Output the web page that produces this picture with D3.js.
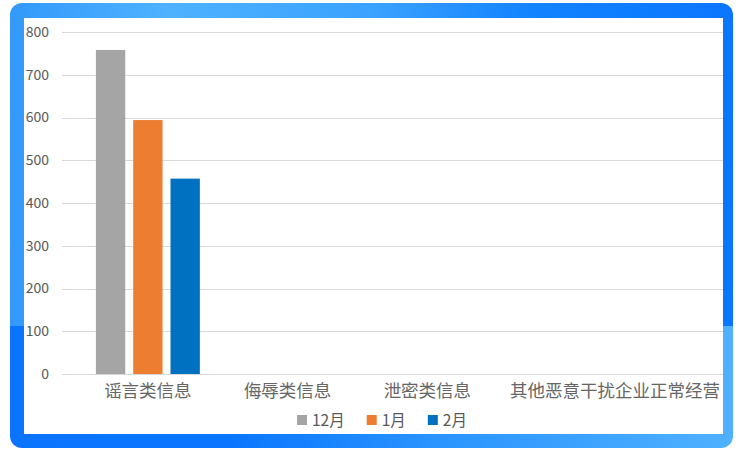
<!DOCTYPE html>
<html><head><meta charset="utf-8">
<script src="https://cdn.jsdelivr.net/npm/d3@7/dist/d3.min.js"></script>
<style>
html,body{margin:0;padding:0;background:#fff;}
svg{display:block;font-family:"Noto Sans CJK SC","Noto Sans",sans-serif;}
</style></head>
<body>
<svg id="chart" width="743" height="460"></svg>
<script>
const categories = ["谣言类信息", "侮辱类信息", "泄密类信息", "其他恶意干扰企业正常经营"];
const seriesNames = ["12月", "1月", "2月"];
const values12 = [758, 0, 0, 0];
const values1 = [594, 0, 0, 0];
const values2 = [457, 0, 0, 0];
const yTicks = [0, 100, 200, 300, 400, 500, 600, 700, 800];
const colors = ["#a5a5a5", "#ed7d31", "#0070c0"];

const seriesValues = [values12, values1, values2];
const svg = d3.select("#chart");
const defs = svg.append("defs");

// frame
const gTop = defs.append("linearGradient").attr("id","gTop").attr("x1","0").attr("x2","1").attr("y1","0").attr("y2","0");
gTop.append("stop").attr("offset","0").attr("stop-color","#3399fb");
gTop.append("stop").attr("offset","0.22").attr("stop-color","#4eb2ff");
gTop.append("stop").attr("offset","0.5").attr("stop-color","#3aa2ff");
gTop.append("stop").attr("offset","0.72").attr("stop-color","#1383ff");
gTop.append("stop").attr("offset","1").attr("stop-color","#0a76ff");
const gBot = defs.append("linearGradient").attr("id","gBot").attr("x1","0").attr("x2","1").attr("y1","0").attr("y2","0");
gBot.append("stop").attr("offset","0").attr("stop-color","#0a74ff");
gBot.append("stop").attr("offset","0.3").attr("stop-color","#0a76ff");
gBot.append("stop").attr("offset","0.6").attr("stop-color","#2b95ff");
gBot.append("stop").attr("offset","1").attr("stop-color","#4fb1ff");
defs.append("clipPath").attr("id","frameClip").append("rect")
  .attr("x",10).attr("y",3).attr("width",723).attr("height",445).attr("rx",12);
const frame = svg.append("g").attr("clip-path","url(#frameClip)");
frame.append("rect").attr("x",10).attr("y",3).attr("width",723).attr("height",323).attr("fill","url(#gTop)");
frame.append("rect").attr("x",10).attr("y",326).attr("width",723).attr("height",122).attr("fill","url(#gBot)");
svg.append("rect").attr("x",24).attr("y",18).attr("width",699).attr("height",416).attr("fill","#fff");

// scales
const plotLeft = 62, plotRight = 723;
const y = d3.scaleLinear().domain([0, 800]).range([374, 32]);
const x0 = d3.scaleBand().domain(categories).range([78, 637]).padding(0);
const x1 = d3.scaleBand().domain(seriesNames).range([0, x0.bandwidth()]).paddingInner(0.213).paddingOuter(0.48);

// gridlines
svg.append("g").selectAll("line").data(yTicks).join("line")
  .attr("x1", plotLeft).attr("x2", plotRight)
  .attr("y1", d => Math.round(y(d)) + 0.5).attr("y2", d => Math.round(y(d)) + 0.5)
  .attr("stroke", "#d9d9d9").attr("stroke-width", 1);

// y tick labels
svg.append("g").selectAll("text").data(yTicks).join("text")
  .attr("x", 49).attr("y", d => y(d)).attr("dy", "0.35em")
  .attr("text-anchor", "end").attr("font-size", 14).attr("fill", "#595959")
  .text(d => d);

// bars
const groups = svg.append("g").selectAll("g").data(categories).join("g")
  .attr("transform", c => `translate(${x0(c)},0)`);
groups.selectAll("rect").data((c, i) => seriesNames.map((s, j) => ({s, v: seriesValues[j][i], j})))
  .join("rect")
  .attr("x", d => x1(d.s)).attr("width", x1.bandwidth())
  .attr("y", d => y(d.v)).attr("height", d => y(0) - y(d.v))
  .attr("fill", d => colors[d.j]);

// category labels
const catLabels = svg.append("g").selectAll("text").data(categories).join("text")
  .attr("x", c => x0(c) + x0.bandwidth() / 2).attr("y", 397)
  .attr("text-anchor", "middle").attr("font-size", 17.5).attr("fill", "#666666")
  .text(c => c);
catLabels.each(function(c) {
  const w = this.getComputedTextLength();
  if (w > x0.bandwidth()) {
    d3.select(this).attr("text-anchor", "end").attr("x", 720);
  }
});

// legend
let lx = 297;
const legend = svg.append("g");
seriesNames.forEach((s, i) => {
  legend.append("rect").attr("x", lx).attr("y", 415).attr("width", 10).attr("height", 10).attr("fill", colors[i]);
  const t = legend.append("text").attr("x", lx + 15).attr("y", 425.5)
    .attr("font-size", 15.5).attr("fill", "#595959").text(s);
  lx += 15 + t.node().getComputedTextLength() + 22;
});
</script>
</body></html>
